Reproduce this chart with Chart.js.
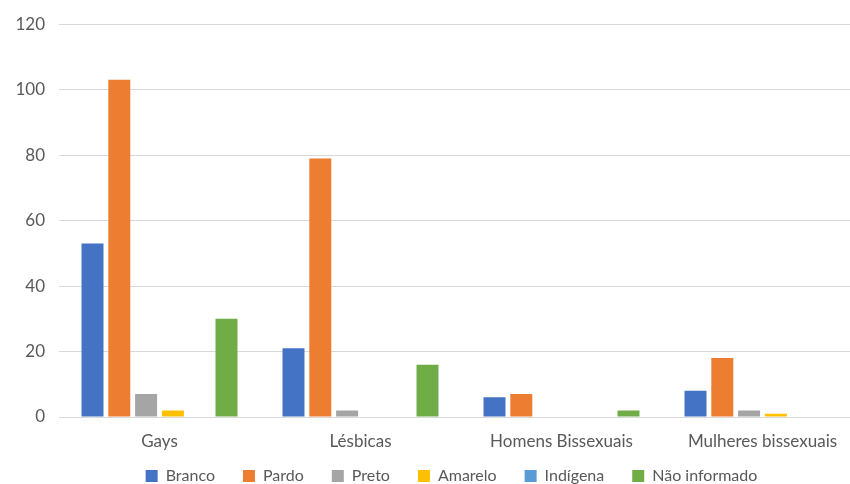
<!DOCTYPE html>
<html>
<head>
<meta charset="utf-8">
<script src="https://cdn.jsdelivr.net/npm/chart.js@4.4.0/dist/chart.umd.min.js"></script>
<style>
  html, body { margin: 0; padding: 0; background: #fff; overflow: hidden; }
  #wrap { width: 864px; height: 484px; position: relative; }
</style>
</head>
<body>
<div id="wrap"><canvas id="chart"></canvas></div>
<script>
// Kategori dan data
const categories = ["Gays", "Lésbicas", "Homens Bissexuais", "Mulheres bissexuais"];
const seriesNames = ["Branco", "Pardo", "Preto", "Amarelo", "Indígena", "Não informado"];
const branco = [53, 21, 6, 8];
const pardo = [103, 79, 7, 18];
const preto = [7, 2, 0, 2];
const amarelo = [2, 0, 0, 1];
const indigena = [0, 0, 0, 0];
const naoInformado = [30, 16, 2, 0];
const yTicks = [0, 20, 40, 60, 80, 100, 120];

const colors = ["#4472C4", "#ED7D31", "#A5A5A5", "#FFC000", "#5B9BD5", "#70AD47"];
const values = [branco, pardo, preto, amarelo, indigena, naoInformado];

// atur posisi legenda biar mirip aslinya
const legendPos = {
  id: "legendPos",
  beforeLayout(chart) {
    const lg = chart.legend;
    if (lg && !lg._patched) {
      const fit = lg.fit.bind(lg);
      lg.fit = function () {
        fit();
        this.height = 27;
      };
      lg._patched = true;
    }
  },
  afterLayout(chart) {
    const lg = chart.legend;
    lg.left += 20;
    lg.right += 20;
    lg.top = 440;
  },
};

const ctx = document.getElementById("chart").getContext("2d");

new Chart(ctx, {
  type: "bar",
  data: {
    labels: categories,
    datasets: seriesNames.map((name, i) => ({
      label: name,
      data: values[i],
      backgroundColor: colors[i],
      borderWidth: 0,
      categoryPercentage: 0.8,
      barPercentage: 0.82,
    })),
  },
  options: {
    responsive: true,
    maintainAspectRatio: false,
    animation: false,
    layout: { padding: { top: 16, right: 1, left: 0, bottom: 0 } },
    plugins: {
      legend: {
        position: "bottom",
        labels: {
          color: "#595959",
          font: { family: "Lato", size: 16 },
          boxWidth: 12,
          boxHeight: 12,
          padding: 28,
        },
      },
      tooltip: { enabled: false },
    },
    scales: {
      x: {
        afterFit: (scale) => {
          scale.height = 40;
        },
        grid: { display: false, drawTicks: false },
        border: { color: "#D9D9D9", width: 1 },
        ticks: {
          color: "#595959",
          font: { family: "Lato", size: 17 },
          padding: 14,
          autoSkip: false,
          maxRotation: 0,
        },
      },
      y: {
        min: 0,
        max: 120,
        afterBuildTicks: (scale) => {
          scale.ticks = yTicks.map((v) => ({ value: v }));
        },
        afterFit: (scale) => {
          scale.width = 59;
        },
        grid: { color: "#D9D9D9", drawTicks: false },
        border: { display: false },
        ticks: {
          color: "#595959",
          font: { family: "Lato", size: 17 },
          padding: 14,
        },
      },
    },
  },
  plugins: [legendPos],
});
</script>
</body>
</html>
